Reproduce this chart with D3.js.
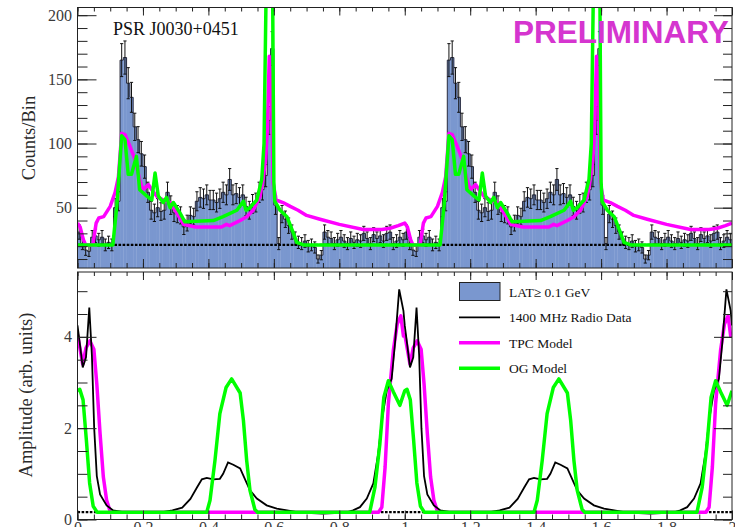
<!DOCTYPE html>
<html>
<head>
<meta charset="utf-8">
<script src="https://cdn.jsdelivr.net/npm/d3@7/dist/d3.min.js"></script>
<style>
  body { margin: 0; background: #fff; }
  svg { display: block; }
  .axis text { font-family: 'Liberation Serif', 'Times New Roman', serif; font-size: 16px; fill: #3a3a3a; }
  .axis line { stroke: #222; }
  .axis path { display: none; }
</style>
</head>
<body>
<div id="graph"></div>
<script>
// LAT >= 0.1 GeV counts, 100 phase bins per rotation (drawn for two rotations)
var latCounts = [
  31, 22, 17, 16, 27, 28, 25, 27, 21, 23,
  21, 50, 55, 165, 167, 147, 136, 113, 103, 92,
  82, 62, 48, 46, 50, 47, 48, 62, 52, 46,
  45, 44, 35, 38, 44, 43, 55, 58, 57, 60,
  56, 56, 54, 57, 62, 60, 72, 60, 61, 58,
  60, 51, 48, 53, 54, 62, 64, 75, 118, 174,
  52, 22, 45, 41, 36, 31, 26, 23, 22, 24,
  20, 21, 19, 10, 13, 31, 27, 26, 22, 25,
  27, 24, 22, 26, 23, 25, 24, 30, 26, 22,
  29, 26, 28, 24, 30, 31, 22, 24, 27, 25
]
var latBackground = 21

// model light curves in counts/bin, one rotation
var tpcPhase = [0, 0.008, 0.018, 0.025, 0.047, 0.057, 0.065, 0.08, 0.1, 0.115,
  0.125, 0.135, 0.145, 0.16, 0.175, 0.19, 0.2, 0.217, 0.227, 0.242,
  0.262, 0.283, 0.303, 0.324, 0.36, 0.4, 0.44, 0.455, 0.465, 0.497,
  0.517, 0.537, 0.558, 0.567, 0.575, 0.58, 0.586, 0.593, 0.598, 0.607,
  0.628, 0.65, 0.674, 0.7, 0.741, 0.8, 0.873, 0.93, 0.955, 0.98]
var tpcCounts = [38, 35, 25, 21, 21, 38, 42, 43, 51, 62,
  74, 108, 107, 98, 88, 72, 64, 68, 64, 59,
  56, 54, 46, 37, 35, 35, 35, 37, 36, 40,
  43, 48, 59, 72, 88, 110, 168, 134, 69, 56,
  54, 51, 48, 44, 41, 37, 33, 33, 34, 36]

var ogPhase = [0, 0.108, 0.12, 0.135, 0.145, 0.155, 0.165, 0.18, 0.19, 0.212,
  0.227, 0.237, 0.247, 0.262, 0.272, 0.283, 0.293, 0.313, 0.328, 0.415,
  0.445, 0.487, 0.507, 0.515, 0.527, 0.548, 0.563, 0.57, 0.577, 0.585,
  0.596, 0.6, 0.603, 0.619, 0.64, 0.66, 0.67, 0.69]
var ogCounts = [21, 21, 51, 106, 103, 76, 76, 90, 64, 59,
  56, 77, 59, 54, 58, 50, 54, 46, 39, 40,
  43, 48, 55, 48, 50, 56, 72, 100, 230, 260,
  230, 70, 55, 48, 43, 30, 23, 21]

// radio and model pulse profiles, arbitrary units, one rotation
var radioPhase = [0, 0.008, 0.016, 0.026, 0.036, 0.044, 0.051, 0.059, 0.069, 0.089,
  0.109, 0.14, 0.2, 0.26, 0.29, 0.32, 0.345, 0.365, 0.38, 0.395,
  0.415, 0.435, 0.445, 0.46, 0.476, 0.497, 0.512, 0.527, 0.548, 0.578,
  0.609, 0.64, 0.68, 0.75, 0.82, 0.842, 0.863, 0.884, 0.904, 0.919,
  0.93, 0.945, 0.96, 0.97, 0.983, 0.996]
var radioAmp = [4.25, 3.8, 3.33, 3.55, 4.64, 3.6, 2.0, 0.95, 0.55, 0.31,
  0.2, 0.16, 0.15, 0.16, 0.2, 0.26, 0.45, 0.7, 0.88, 0.91,
  0.88, 0.89, 1.0, 1.25, 1.2, 1.12, 0.88, 0.64, 0.46, 0.31,
  0.24, 0.2, 0.15, 0.13, 0.15, 0.2, 0.27, 0.46, 0.79, 1.45,
  2.17, 2.82, 3.08, 3.84, 5.04, 4.57]

var tpcAmpPhase = [0, 0.016, 0.026, 0.038, 0.05, 0.059, 0.069, 0.079, 0.089, 0.099,
  0.11, 0.92, 0.93, 0.94, 0.95, 0.965, 0.977, 0.988, 0.996]
var tpcAmp = [4.05, 3.4, 3.76, 3.91, 3.73, 2.97, 1.88, 0.93, 0.42, 0.2,
  0.16, 0.16, 0.27, 1.15, 2.54, 3.7, 4.28, 4.46, 4.02]

var ogAmpPhase = [0, 0.007, 0.017, 0.027, 0.037, 0.048, 0.06, 0.395, 0.405, 0.42,
  0.435, 0.454, 0.471, 0.497, 0.507, 0.517, 0.527, 0.542, 0.55, 0.893,
  0.909, 0.924, 0.936, 0.95, 0.965, 0.985]
var ogAmp = [2.82, 2.85, 2.62, 1.75, 0.8, 0.29, 0.16, 0.16, 0.42, 1.29,
  2.32, 2.89, 3.08, 2.77, 2.17, 1.29, 0.64, 0.22, 0.16, 0.16,
  0.71, 1.66, 2.67, 3.04, 2.8, 2.5]
var ampBackground = 0.16

var phaseTicks = [0, 0.2, 0.4, 0.6, 0.8, 1, 1.2, 1.4, 1.6, 1.8, 2]
var phaseLabels = ['0', '0.2', '0.4', '0.6', '0.8', '1', '1.2', '1.4', '1.6', '1.8', '2']
var countTicks = [50, 100, 150, 200]
var countLabels = ['50', '100', '150', '200']
var ampTicks = [0, 2, 4]
var ampLabels = ['0', '2', '4']

var legendLabels = ['LAT\u2265 0.1 GeV', '1400 MHz Radio Data', 'TPC Model', 'OG Model']

var blue = '#7a97cf', magenta = '#ff00ff', green = '#00ff00'

var width = 735, height = 527
var left = 77.5, right = 732
var top1 = 7.5, bottom1 = 268
var top2 = 272, bottom2 = 519.5

var svg = d3.select('#graph').append('svg')
  .attr('width', width)
  .attr('height', height)

var x = d3.scaleLinear().domain([0, 2]).range([left, right])
var yCounts = d3.scaleLinear().domain([3, 206]).range([bottom1, top1])
var yAmp = d3.scaleLinear().domain([0, 5.42]).range([bottom2, top2])

// fold one rotation out to phase 0..2
function twoCycles(phases, values) {
  var pts = []
  for (var k = 0; k < 2; k++) {
    phases.forEach(function(p, i) { pts.push([p + k, values[i]]) })
  }
  pts.push([2, values[0]])
  return pts
}

var defs = svg.append('defs')
defs.append('clipPath').attr('id', 'clipTop').append('rect')
  .attr('x', left).attr('y', top1).attr('width', right - left).attr('height', bottom1 - top1)
defs.append('clipPath').attr('id', 'clipBottom').append('rect')
  .attr('x', left).attr('y', top2).attr('width', right - left).attr('height', bottom2 - top2)

// ---- top panel: LAT histogram + models
var gTop = svg.append('g').attr('clip-path', 'url(#clipTop)')

var bins = []
for (var k = 0; k < 2; k++) {
  latCounts.forEach(function(c, i) { bins.push({ p0: k + i / 100, p1: k + (i + 1) / 100, c: c }) })
}

gTop.selectAll('rect.bin')
  .data(bins)
  .enter().append('rect')
  .attr('class', 'bin')
  .attr('x', function(d) { return x(d.p0) })
  .attr('width', function(d) { return x(d.p1) - x(d.p0) + 0.3 })
  .attr('y', function(d) { return yCounts(d.c) })
  .attr('height', function(d) { return bottom1 - yCounts(d.c) })
  .attr('fill', blue)

var stepLine = d3.line()
  .curve(d3.curveStepAfter)
  .x(function(d) { return x(d[0]) })
  .y(function(d) { return yCounts(d[1]) })

var stepPts = bins.map(function(d) { return [d.p0, d.c] })
stepPts.push([2, latCounts[latCounts.length - 1]])
gTop.append('path')
  .attr('d', stepLine(stepPts))
  .attr('fill', 'none')
  .attr('stroke', '#1a1a2a')
  .attr('stroke-width', 0.9)

// poisson error bars
var errs = gTop.selectAll('g.err')
  .data(bins)
  .enter().append('g')
  .attr('class', 'err')
  .attr('stroke', '#111')
  .attr('stroke-width', 1)
errs.append('line')
  .attr('x1', function(d) { return x((d.p0 + d.p1) / 2) })
  .attr('x2', function(d) { return x((d.p0 + d.p1) / 2) })
  .attr('y1', function(d) { return yCounts(d.c - Math.sqrt(d.c)) })
  .attr('y2', function(d) { return yCounts(d.c + Math.sqrt(d.c)) })
errs.selectAll('line.cap')
  .data(function(d) { return [d.c - Math.sqrt(d.c), d.c + Math.sqrt(d.c)].map(function(v) { return { d: d, v: v } }) })
  .enter().append('line')
  .attr('class', 'cap')
  .attr('x1', function(e) { return x((e.d.p0 + e.d.p1) / 2) - 1.6 })
  .attr('x2', function(e) { return x((e.d.p0 + e.d.p1) / 2) + 1.6 })
  .attr('y1', function(e) { return yCounts(e.v) })
  .attr('y2', function(e) { return yCounts(e.v) })

gTop.append('line')
  .attr('x1', left).attr('x2', right)
  .attr('y1', yCounts(latBackground)).attr('y2', yCounts(latBackground))
  .attr('stroke', '#000')
  .attr('stroke-width', 2.4)
  .attr('stroke-dasharray', '2.6,1.5')

var countLine = d3.line()
  .x(function(d) { return x(d[0]) })
  .y(function(d) { return yCounts(d[1]) })

gTop.append('path')
  .attr('d', countLine(twoCycles(tpcPhase, tpcCounts)))
  .attr('fill', 'none')
  .attr('stroke', magenta)
  .attr('stroke-width', 3.5)
  .attr('stroke-linejoin', 'round')

gTop.append('path')
  .attr('d', countLine(twoCycles(ogPhase, ogCounts)))
  .attr('fill', 'none')
  .attr('stroke', green)
  .attr('stroke-width', 3.5)
  .attr('stroke-linejoin', 'round')

// ---- bottom panel: radio + model profiles
var gBot = svg.append('g').attr('clip-path', 'url(#clipBottom)')

var ampLine = d3.line()
  .x(function(d) { return x(d[0]) })
  .y(function(d) { return yAmp(d[1]) })

gBot.append('line')
  .attr('x1', left).attr('x2', right)
  .attr('y1', yAmp(ampBackground)).attr('y2', yAmp(ampBackground))
  .attr('stroke', '#000')
  .attr('stroke-width', 2.2)
  .attr('stroke-dasharray', '2.6,1.5')

gBot.append('path')
  .attr('d', ampLine(twoCycles(tpcAmpPhase, tpcAmp)))
  .attr('fill', 'none')
  .attr('stroke', magenta)
  .attr('stroke-width', 3.5)
  .attr('stroke-linejoin', 'round')

gBot.append('path')
  .attr('d', ampLine(twoCycles(radioPhase, radioAmp)))
  .attr('fill', 'none')
  .attr('stroke', '#000')
  .attr('stroke-width', 1.8)

gBot.append('path')
  .attr('d', ampLine(twoCycles(ogAmpPhase, ogAmp)))
  .attr('fill', 'none')
  .attr('stroke', green)
  .attr('stroke-width', 3.5)
  .attr('stroke-linejoin', 'round')

// ---- frames and ticks (root style, ticks on all four sides pointing in)
function minorTicks(scale, step) {
  var d = scale.domain(), out = []
  for (var v = Math.ceil(d[0] / step) * step; v <= d[1] + 1e-9; v += step) out.push(+v.toFixed(4))
  return out
}

function frame(yScale, y0, y1, yMajor, yLabels, yMinorStep, showXLabels) {
  var g = svg.append('g')
  var phaseMinor = minorTicks(x, 0.05)
  var yMinor = minorTicks(yScale, yMinorStep)

  g.append('g').attr('class', 'axis').attr('transform', 'translate(' + left + ',0)')
    .call(d3.axisLeft(yScale).tickValues(yMinor).tickSize(-10).tickFormat(''))
  g.append('g').attr('class', 'axis').attr('transform', 'translate(' + left + ',0)')
    .call(d3.axisLeft(yScale).tickValues(yMajor).tickSize(-19).tickPadding(5.5)
      .tickFormat(function(d, i) { return yLabels[i] }))
  g.append('g').attr('class', 'axis').attr('transform', 'translate(' + right + ',0)')
    .call(d3.axisRight(yScale).tickValues(yMinor).tickSize(-9).tickFormat(''))
  g.append('g').attr('class', 'axis').attr('transform', 'translate(' + right + ',0)')
    .call(d3.axisRight(yScale).tickValues(yMajor).tickSize(-18).tickFormat(''))

  g.append('g').attr('class', 'axis').attr('transform', 'translate(0,' + y0 + ')')
    .call(d3.axisTop(x).tickValues(phaseMinor).tickSize(-4).tickFormat(''))
  g.append('g').attr('class', 'axis').attr('transform', 'translate(0,' + y0 + ')')
    .call(d3.axisTop(x).tickValues(phaseTicks).tickSize(-8).tickFormat(''))
  g.append('g').attr('class', 'axis').attr('transform', 'translate(0,' + y1 + ')')
    .call(d3.axisBottom(x).tickValues(phaseMinor).tickSize(-5).tickFormat(''))
  g.append('g').attr('class', 'axis').attr('transform', 'translate(0,' + y1 + ')')
    .call(d3.axisBottom(x).tickValues(phaseTicks).tickSize(-9).tickPadding(2.5)
      .tickFormat(function(d, i) { return showXLabels ? phaseLabels[i] : '' }))

  g.append('rect')
    .attr('x', left).attr('y', y0)
    .attr('width', right - left).attr('height', y1 - y0)
    .attr('fill', 'none')
    .attr('stroke', '#222')
    .attr('stroke-width', 1)
}

frame(yCounts, top1, bottom1, countTicks, countLabels, 10, false)
frame(yAmp, top2, bottom2, ampTicks, ampLabels, 0.5, true)

// ---- titles
var serif = "'Liberation Serif', 'Times New Roman', serif"

svg.append('text')
  .attr('transform', 'translate(35,138) rotate(-90)')
  .attr('text-anchor', 'middle')
  .style('font-family', serif).style('font-size', '18.5px').style('fill', '#2a2a2a')
  .text('Counts/Bin')

svg.append('text')
  .attr('transform', 'translate(32,395) rotate(-90)')
  .attr('text-anchor', 'middle')
  .style('font-family', serif).style('font-size', '18.5px').style('fill', '#2a2a2a')
  .text('Amplitude (arb. units)')

svg.append('text')
  .attr('x', 113).attr('y', 35)
  .style('font-family', serif).style('font-size', '18px').style('fill', '#111')
  .text('PSR J0030+0451')

svg.append('text')
  .attr('x', 513).attr('y', 43)
  .style('font-family', "'Liberation Sans', Arial, sans-serif")
  .style('font-size', '31.5px').style('font-weight', 'bold')
  .style('fill', '#d535cf')
  .text('PRELIMINARY')

// ---- legend
var legend = svg.append('g')
var rowY = [291.7, 317.3, 342.7, 368.3]
var rowColor = [blue, '#000', magenta, green]
var rowWidth = [0, 1.8, 3.5, 3.5]

legendLabels.forEach(function(label, i) {
  if (i === 0) {
    legend.append('rect')
      .attr('x', 459.5).attr('y', 282.5).attr('width', 40.5).attr('height', 18)
      .attr('fill', blue).attr('stroke', '#222').attr('stroke-width', 1)
  } else {
    legend.append('line')
      .attr('x1', 459).attr('x2', 500)
      .attr('y1', rowY[i]).attr('y2', rowY[i])
      .attr('stroke', rowColor[i]).attr('stroke-width', rowWidth[i])
  }
  legend.append('text')
    .attr('x', 509).attr('y', rowY[i] + 5)
    .style('font-family', serif).style('font-size', '13.5px').style('fill', '#111')
    .text(label)
})
</script>
</body>
</html>
